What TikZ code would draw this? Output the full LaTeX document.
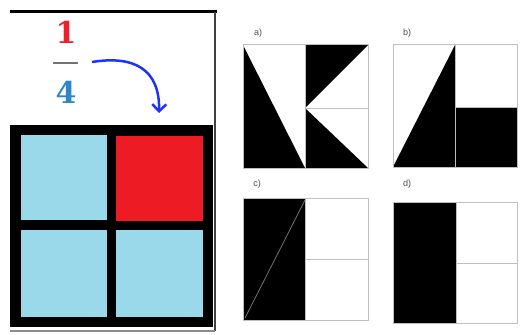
\documentclass[tikz,border=0pt]{standalone}
\usepackage{fontspec}
\setsansfont{Liberation Sans}
\newfontfamily\numfont{DejaVu Serif}
\usetikzlibrary{arrows.meta}
\definecolor{cellblue}{RGB}{153,217,234}
\definecolor{cellred}{RGB}{237,28,36}
\definecolor{numred}{RGB}{240,30,40}
\definecolor{numblue}{RGB}{46,134,200}
\definecolor{arrowblue}{RGB}{30,50,250}
\definecolor{linegray}{RGB}{190,190,190}
\tikzset{
  sq/.style={draw=linegray, line width=1pt},
  lbl/.style={font=\sffamily\fontsize{9}{9}\selectfont, text=black!70, inner sep=0pt},
  bignum/.style={font=\numfont\bfseries\fontsize{30}{30}\selectfont, inner sep=0pt}
}
\begin{document}
\begin{tikzpicture}[x=1pt,y=-1pt]
\useasboundingbox (0,0) rectangle (526,334);
% left frame
\draw[line width=3pt] (10,12) -- (217,12);
\draw[line width=1.5pt, black!75] (215,12) -- (215,331);
\draw[line width=1.5pt, black!45] (10,331) -- (215,331);
% fraction
\node[bignum, text=numred] (num) at (66,32) {1};
\draw[line width=2pt, black!55] (53,63) -- (78,63) coordinate (barR);
\node[bignum, text=numblue] (den) at (66,92) {4};
\coordinate (astart) at (92,62);
\coordinate (aend) at (159,113);
\draw[arrowblue, line width=2.5pt, -{Straight Barb[length=7pt,width=14pt]}]
  (astart) .. controls (135,55) and (160,70) .. (aend);
% grid
\fill[black] (10,125) rectangle (213,327);
\fill[cellblue] (21,135) rectangle (107,220);
\fill[cellred] (116,136) rectangle (203,221);
\fill[cellblue] (21,230) rectangle (107,317);
\fill[cellblue] (116,230) rectangle (203,317);
% a)
\node[lbl] (la) at (258,33) {a)};
\fill (243,45) -- (243,168) -- (305,168) -- cycle;
\fill (305,45) -- (368,45) -- (305,108) -- cycle;
\fill (305,108) -- (305,168) -- (368,168) -- cycle;
\draw[sq] (243,45) rectangle (368,168);
\draw[sq] (305,45) -- (305,168);
\draw[sq] (305,108) -- (368,108);
% b)
\node[lbl] (lb) at (407,33) {b)};
\fill (393,167) -- (455,45) -- (455,167) -- cycle;
\fill (455,107) rectangle (517,167);
\draw[sq] (393,45) rectangle (517,167);
\draw[sq] (455,45) -- (455,167);
\draw[sq] (455,107) -- (517,107);
% c)
\node[lbl] (lc) at (257,184) {c)};
\fill (243,198) rectangle (305,320);
\draw[sq] (243,198) rectangle (368,320);
\draw[sq] (305,198) -- (305,320);
\draw[sq] (305,259) -- (368,259);
\draw[black!55, line width=0.8pt] (245,318) -- (305,200);
% d)
\node[lbl] (ld) at (407,184) {d)};
\fill (393,202) rectangle (456,323);
\draw[sq] (393,202) rectangle (517,323);
\draw[sq] (456,202) -- (456,323);
\draw[sq] (456,263) -- (517,263);
\end{tikzpicture}
\end{document}
